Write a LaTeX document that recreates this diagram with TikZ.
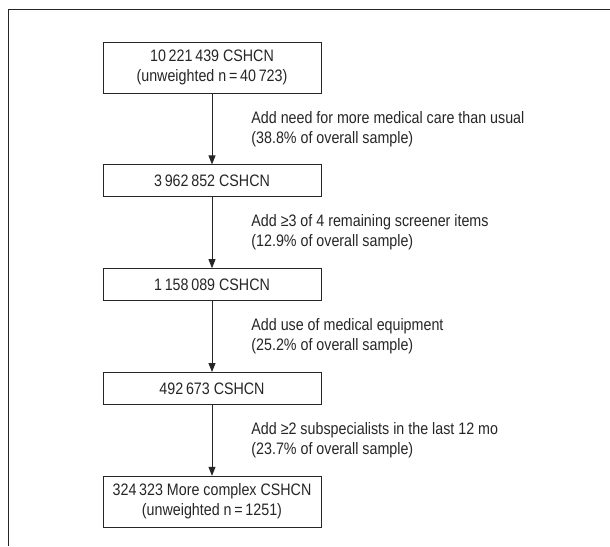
\documentclass[tikz,border=0pt]{standalone}
\usepackage{fontspec}
\setmainfont[FakeStretch=0.86]{Liberation Sans}
\usepackage{tikz}
\usetikzlibrary{positioning,arrows.meta}

\definecolor{inkgray}{HTML}{262626}

\begin{document}
\begin{tikzpicture}[x=1pt, y=-1pt, >={Triangle[length=9pt,width=7pt]}, node distance=71pt,
    every node/.style={font=\fontsize{16.6}{20}\selectfont, text=inkgray}]
      \tikzstyle{countbox}=[draw=inkgray, line width=0.8pt, minimum width=218pt, minimum height=32pt, inner sep=2pt, align=center]
      \tikzstyle{addlabel}=[anchor=west, xshift=39pt, align=left, inner sep=0pt]
      \useasboundingbox (0,0) rectangle (610,546);
      % outer frame (cut at right and bottom)
      \draw[inkgray, line width=0.8pt] (8,546) -- (8,9.5) -- (610,9.5);

      \node[countbox, minimum height=51pt] (all) at (212,67.5) {10\,221\,439 CSHCN\\(unweighted n\,=\,40\,723)};
      \node[countbox, below=of all] (care) {3\,962\,852 CSHCN};
      \node[countbox, below=of care] (screen) {1\,158\,089 CSHCN};
      \node[countbox, below=of screen] (equip) {492\,673 CSHCN};
      \node[countbox, minimum height=51pt, below=of equip] (complex) {324\,323 More complex CSHCN\\(unweighted n\,=\,1251)};

      \draw[->, inkgray, line width=0.8pt] (all) -- node[addlabel] (addcare) {Add need for more medical care than usual\\(38.8\% of overall sample)} (care);
      \draw[->, inkgray, line width=0.8pt] (care) -- node[addlabel] (addscreen) {Add ≥3 of 4 remaining screener items\\(12.9\% of overall sample)} (screen);
      \draw[->, inkgray, line width=0.8pt] (screen) -- node[addlabel] (addequip) {Add use of medical equipment\\(25.2\% of overall sample)} (equip);
      \draw[->, inkgray, line width=0.8pt] (equip) -- node[addlabel] (addspec) {Add ≥2 subspecialists in the last 12 mo\\(23.7\% of overall sample)} (complex);
    \end{tikzpicture}
\end{document}
